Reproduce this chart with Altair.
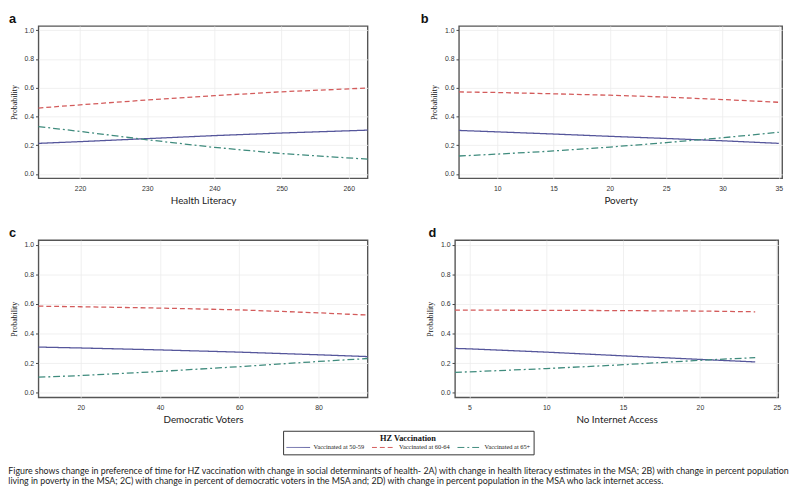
import altair as alt
import pandas as pd

series = ["Vaccinated at 50-59", "Vaccinated at 60-64", "Vaccinated at 65+"]
colors = ["#55569b", "#d35b5b", "#3f8b7d"]
dashes = [[1, 0], [5, 3], [7, 3, 2, 3]]

# Panel a: Health Literacy
a_x = [213.8, 220, 230, 240, 250, 262.8]
a_5059 = [0.213, 0.225, 0.246, 0.267, 0.285, 0.305]
a_6064 = [0.459, 0.481, 0.515, 0.545, 0.572, 0.598]
a_65 = [0.330, 0.296, 0.238, 0.185, 0.142, 0.103]

# Panel b: Poverty
b_x = [6.6, 10, 15, 20, 25, 30, 35]
b_5059 = [0.303, 0.293, 0.278, 0.262, 0.247, 0.231, 0.213]
b_6064 = [0.571, 0.567, 0.558, 0.548, 0.535, 0.518, 0.499]
b_65 = [0.125, 0.138, 0.160, 0.187, 0.218, 0.252, 0.290]

# Panel c: Democratic Voters
c_x = [9.3, 20, 40, 60, 80, 92.4]
c_5059 = [0.309, 0.303, 0.290, 0.275, 0.257, 0.245]
c_6064 = [0.585, 0.581, 0.572, 0.560, 0.540, 0.525]
c_65 = [0.106, 0.117, 0.145, 0.177, 0.212, 0.232]

# Panel d: No Internet Access
d_x = [4.06, 5, 10, 15, 20, 23.6]
d_5059 = [0.300, 0.297, 0.275, 0.250, 0.226, 0.209]
d_6064 = [0.558, 0.558, 0.557, 0.555, 0.552, 0.547]
d_65 = [0.139, 0.142, 0.164, 0.190, 0.220, 0.238]

y_ticks = [0.0, 0.2, 0.4, 0.6, 0.8, 1.0]

caption = [
    "Figure shows change in preference of time for HZ vaccination with change in social determinants of health- 2A) with change in health literacy estimates in the MSA; 2B) with change in percent population",
    "living in poverty in the MSA; 2C) with change in percent of democratic voters in the MSA and; 2D) with change in percent population in the MSA who lack internet access.",
]


def make_df(x, ys):
    rows = []
    for name, vals in zip(series, ys):
        for xv, yv in zip(x, vals):
            rows.append({"x": xv, "p": yv, "group": name})
    return pd.DataFrame(rows)


legend = alt.Legend(
    title="HZ Vaccination",
    orient="none",
    legendX=249,
    legendY=412,
    direction="horizontal",
    titleAnchor="middle",
    titleFont="Liberation Serif",
    titleFontSize=8.5,
    titleFontWeight="bold",
    titleColor="#111",
    titlePadding=2,
    labelFont="Liberation Serif",
    labelFontSize=6.5,
    labelColor="#222",
    labelOffset=21,
    symbolType="M-1,0H7",
    symbolSize=36,
    symbolStrokeWidth=1,
    columnPadding=5,
    strokeColor="#333",
    padding=3,
)


def panel(x, ys, letter, title, domain, ticks, width, height, letter_dx):
    df = make_df(x, ys)
    lines = alt.Chart(df).mark_line(strokeWidth=1.3).encode(
        x=alt.X(
            "x:Q",
            title=title,
            scale=alt.Scale(domain=domain, nice=False, zero=False),
            axis=alt.Axis(values=ticks, format="d"),
        ),
        y=alt.Y(
            "p:Q",
            title="Probability",
            scale=alt.Scale(domain=[-0.03, 1.03], nice=False),
            axis=alt.Axis(values=y_ticks, format=".1f"),
        ),
        color=alt.Color("group:N", scale=alt.Scale(domain=series, range=colors), legend=legend),
        strokeDash=alt.StrokeDash("group:N", scale=alt.Scale(domain=series, range=dashes), legend=legend),
    )
    lab = alt.Chart(pd.DataFrame({"t": [letter]})).mark_text(
        font="Liberation Sans", fontSize=13, fontWeight="bold", align="left", baseline="bottom", color="#111"
    ).encode(text="t:N", x=alt.value(letter_dx), y=alt.value(0))
    return alt.layer(lines, lab).properties(width=width, height=height)


pa = panel(a_x, [a_5059, a_6064, a_65], "a", "Health Literacy", [213.8, 262.8], [220, 230, 240, 250, 260], 335, 155, -30)
pb = panel(b_x, [b_5059, b_6064, b_65], "b", "Poverty", [6.6, 35.3], [10, 15, 20, 25, 30, 35], 329, 155, -39)
pc = panel(c_x, [c_5059, c_6064, c_65], "c", "Democratic Voters", [9.3, 92.4], [20, 40, 60, 80], 335, 160, -30)
pd_ = panel(d_x, [d_5059, d_6064, d_65], "d", "No Internet Access", [4.06, 25.1], [5, 10, 15, 20, 25], 329, 160, -27)

chart = alt.vconcat(
    alt.hconcat(pa, pb, spacing=49),
    alt.hconcat(pc, pd_, spacing=55),
    spacing=20,
).properties(
    padding=0,
    title=alt.TitleParams(
        text=caption,
        orient="bottom",
        anchor="start",
        font="Lato",
        fontSize=9,
        fontWeight="normal",
        color="#222",
        lineHeight=11,
        offset=12,
    ),
).configure_view(
    stroke="#555555", strokeWidth=1.4
).configure_axis(
    grid=True,
    gridColor="#ececec",
    gridWidth=0.8,
    domain=False,
    labelFont="Liberation Sans",
    labelFontSize=7,
    labelColor="#333",
    tickColor="#444",
    tickSize=3,
    labelPadding=2,
).configure_axisY(
    titleFont="Liberation Serif",
    titleFontSize=8,
    titleFontWeight="normal",
    titleColor="#111",
    titlePadding=6,
).configure_axisX(
    ticks=False,
    labelPadding=6,
    titleFont="Lato",
    titleFontSize=10,
    titleFontWeight="normal",
    titleColor="#222",
    titlePadding=5,
)

chart.save("out.html", embed_options={"renderer": "svg", "actions": False})
